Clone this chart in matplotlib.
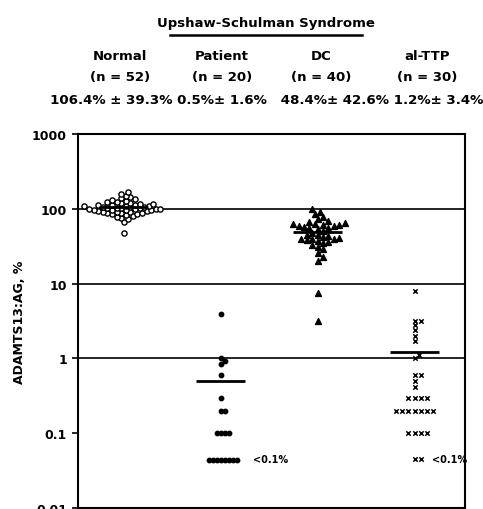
import numpy as np
import matplotlib
matplotlib.use("Agg")
import matplotlib.pyplot as plt

plt.rcParams['font.family'] = ['DejaVu Sans']
plt.rcParams['font.weight'] = 'bold'

# data (ADAMTS13:AG, %)
groups = ['Normal', 'Patient', 'DC', 'al-TTP']
counts = ['(n = 52)', '(n = 20)', '(n = 40)', '(n = 30)']
stats = ['106.4% ± 39.3%', '0.5%± 1.6%', '48.4%± 42.6%', '1.2%± 3.4%']
means = [106.4, 0.5, 48.4, 1.2]

normal = [48, 66, 72, 76, 78, 80, 82, 84, 86, 87, 88, 89, 90, 91, 92, 93, 94,
          95, 96, 97, 97, 98, 99, 100, 100, 101, 102, 103, 104, 105, 106, 107,
          108, 109, 110, 111, 112, 114, 115, 117, 119, 121, 123, 125, 128, 131,
          134, 138, 142, 150, 160, 170]
patient = [0.044] * 8 + [0.1] * 4 + [0.2] * 2 + [0.3, 0.6, 0.85, 0.92, 1.0, 3.9]
dc = [3.2, 7.6, 20, 23, 26, 29, 31, 33, 35, 36, 37, 38, 39, 40, 40, 41, 42, 43,
      44, 45, 47, 50, 53, 55, 56, 57, 58, 59, 60, 61, 62, 63, 64, 66, 68, 72,
      78, 85, 92, 100]
attp = [0.045] * 2 + [0.1] * 4 + [0.2] * 7 + [0.3] * 4 + [0.42, 0.5, 0.6, 0.6,
        1.0, 1.1, 1.7, 2.0, 2.4, 2.8, 3.2, 3.2, 7.9]
series = [normal, patient, dc, attp]

W, H = 483, 510
fig = plt.figure(figsize=(W / 100, H / 100), dpi=100)
ax = fig.add_axes([78 / W, 1 / H, 387 / W, 374 / H])
ax.set_yscale('log')
ax.set_ylim(0.01, 1000)
ax.set_xlim(-0.47, 3.52)
pos = np.arange(len(groups))


def swarm(xc, vals, diam):
    # simple beeswarm in pixel space
    pts = ax.transData.transform(np.column_stack([np.full(len(vals), xc), vals]))
    ys = pts[:, 1]
    x0 = pts[0, 0]
    xs = np.zeros(len(vals))
    placed = []
    step = diam * 0.5
    for i in np.argsort(ys, kind='stable'):
        k = 0
        while True:
            off = ((k + 1) // 2) * step * (1 if k % 2 else -1)
            x = x0 + off
            if all((x - px) ** 2 + (ys[i] - py) ** 2 >= diam ** 2 for px, py in placed):
                break
            k += 1
        placed.append((x, ys[i]))
        xs[i] = x
    return ax.transData.inverted().transform(np.column_stack([xs, ys]))


styles = [dict(marker='o', s=14, facecolor='white', edgecolor='black', linewidths=1.0),
          dict(marker='o', s=10, color='black'),
          dict(marker='^', s=18, color='black'),
          dict(marker='x', s=10, color='black', linewidths=1.1)]
diams = [4.6, 4.0, 5.4, 4.2]

for p, vals, st, d in zip(pos, series, styles, diams):
    xy = swarm(p, vals, d)
    ax.scatter(xy[:, 0], xy[:, 1], zorder=3, **st)

# mean bars
ax.hlines(means, pos - 0.25, pos + 0.25, color='black', lw=2, zorder=4)

for v in [100, 10, 1]:
    ax.axhline(v, color='black', lw=1.2, zorder=1)

for s in ax.spines.values():
    s.set_linewidth(1.5)

ax.set_yticks([0.01, 0.1, 1, 10, 100, 1000])
ax.set_yticklabels(['0.01', '0.1', '1', '10', '100', '1000'], fontsize=9, fontweight='bold')
ax.yaxis.set_minor_locator(matplotlib.ticker.NullLocator())
ax.tick_params(axis='y', length=4, width=1.2, pad=4)
ax.set_xticks([])
ax.set_ylabel('ADAMTS13:AG, %', fontsize=9, fontweight='bold', labelpad=4)

ax.text(1.33, 0.045, '<0.1%', fontsize=7, fontweight='bold', va='center', ha='left')
ax.text(3.18, 0.045, '<0.1%', fontsize=7, fontweight='bold', va='center', ha='left')

# header
def ftext(x, y, s, ha='center', **kw):
    fig.text(x / W, 1 - y / H, s, ha=ha, va='center', fontweight='bold', **kw)


ftext(266, 23, 'Upshaw-Schulman Syndrome', fontsize=9.5)
fig.add_artist(plt.Line2D([170 / W, 362 / W], [1 - 36 / H, 1 - 36 / H], color='black', lw=1.8))
hx = [120, 222, 321, 427]
for x, g, n in zip(hx, groups, counts):
    ftext(x, 57, g, fontsize=9.5)
    ftext(x, 78, n, fontsize=9.5)
ftext(50, 100, stats[0] + ' ' + stats[1] + '   ' + stats[2] + ' ' + stats[3],
      ha='left', fontsize=9.6)

fig.savefig('out.png', dpi=100)
